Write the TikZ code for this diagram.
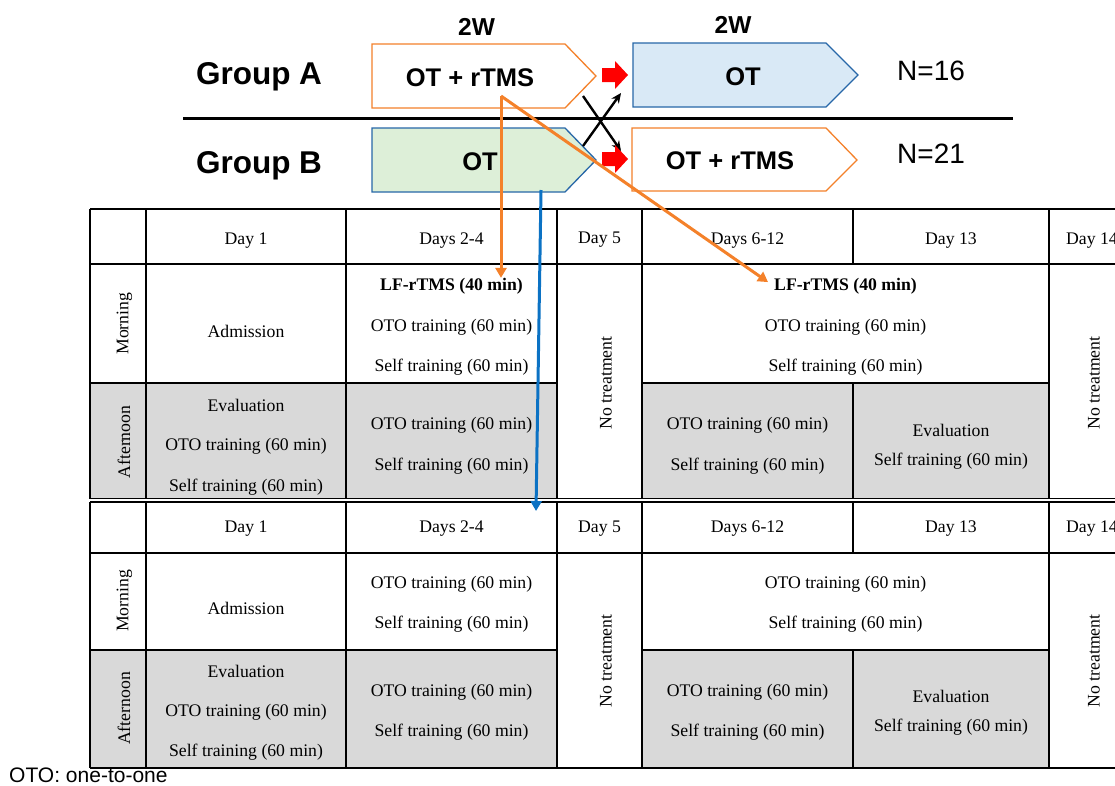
\documentclass[tikz,border=0pt]{standalone}
\usepackage{fontspec}
\setmainfont{Liberation Serif}
\setsansfont{Liberation Sans}
\usetikzlibrary{arrows.meta}
\definecolor{orangeA}{HTML}{F4812A}
\definecolor{boxblue}{HTML}{2767A8}
\definecolor{arrblue}{HTML}{0B72C4}
\definecolor{greenF}{HTML}{DDEFD8}
\definecolor{blueF}{HTML}{D9E9F6}
\definecolor{grayF}{HTML}{D9D9D9}
\tikzset{
  tt/.style={font=\fontsize{17.7}{20}\selectfont, inner sep=0pt, yshift=-1.8pt},
  ttb/.style={font=\fontsize{17.7}{20}\selectfont\bfseries, inner sep=0pt, yshift=-1.8pt},
  rot/.style={font=\fontsize{17.7}{20}\selectfont, inner sep=0pt, rotate=90},
  gridline/.style={line width=1.4pt, black},
  grp/.style={font=\sffamily\bfseries\fontsize{31.5}{35}\selectfont, inner sep=0pt, anchor=base},
  boxtxt/.style={font=\sffamily\bfseries\fontsize{25.5}{29}\selectfont, inner sep=0pt, anchor=base},
  wk/.style={font=\sffamily\bfseries\fontsize{24.5}{28}\selectfont, inner sep=0pt, anchor=base},
  ntxt/.style={font=\sffamily\fontsize{28}{32}\selectfont, inner sep=0pt, anchor=base west},
  orbox/.style={draw=orangeA, line width=1.3pt, fill=white},
  blbox/.style={draw=boxblue, line width=1.3pt},
  orarrow/.style={draw=orangeA, line width=3pt, -{Triangle[length=10pt,width=11pt]}},
  blarrow/.style={draw=arrblue, line width=3pt, -{Triangle[length=10pt,width=11pt]}},
  crossarrow/.style={draw=black, line width=2.4pt, -{Stealth[length=10pt,width=9pt]}},
  redarrow/.style={fill=red, draw=none}
}
\newcommand\schedgrid[4]{%
  \fill[grayF] (90,#3) rectangle (557,#4);
  \fill[grayF] (642,#3) rectangle (1049,#4);
  \draw[gridline] (90,#1) -- (1140,#1) (90,#2) -- (1140,#2) (90,#4) -- (1140,#4)
    (90,#3) -- (557,#3) (642,#3) -- (1049,#3)
    (90,#1) -- (90,#4) (146,#1) -- (146,#4) (346,#1) -- (346,#4)
    (557,#1) -- (557,#4) (642,#1) -- (642,#4) (1049,#1) -- (1049,#4)
    (853,#1) -- (853,#2) (853,#3) -- (853,#4);
}
\newcommand\redblock[1]{%
  \fill[redarrow] (602,#1-7) -- (615,#1-7) -- (615,#1-14) -- (628,#1) -- (615,#1+14) -- (615,#1+7) -- (602,#1+7) -- cycle;
}
\begin{document}
\begin{tikzpicture}[x=1pt,y=-1pt]
\clip (0,0) rectangle (1115,785);
\fill[white] (0,0) rectangle (1115,785);

% ---------- tables ----------
\schedgrid{209}{264}{383}{498.5}
\schedgrid{502}{553}{650}{768}

% table 1 texts
\node[tt] (ah1) at (246,238.3) {Day 1};
\node[tt] (ah2) at (451.5,238.3) {Days 2-4};
\node[tt] (ah3) at (599.5,238.3) {Day 5};
\node[tt] (ah4) at (747.5,238.3) {Days 6-12};
\node[tt] (ah5) at (951,238.3) {Day 13};
\node[tt] (ah6) at (1092,238.3) {Day 14};
\node[rot] (amor) at (124.5,323.7) {Morning};
\node[rot] (aaft) at (124,442) {Afternoon};
\node[tt] (aadm) at (246,330) {Admission};
\node[ttb] (alf1) at (451.5,284.3) {LF-rTMS (40 min)};
\node[tt] (aoto1) at (451.5,325.7) {OTO training (60 min)};
\node[tt] (aself1) at (451.5,365.7) {Self training (60 min)};
\node[ttb] (alf2) at (845.5,284.3) {LF-rTMS (40 min)};
\node[tt] (aoto2) at (845.5,325.7) {OTO training (60 min)};
\node[tt] (aself2) at (845.5,365.7) {Self training (60 min)};
\node[rot] (ano1) at (606,383) {No treatment};
\node[rot] (ano2) at (1094,383) {No treatment};
\node[tt] (aev1) at (246,403.3) {Evaluation};
\node[tt] (aoto3) at (246,444.3) {OTO training (60 min)};
\node[tt] (aself3) at (246,485) {Self training (60 min)};
\node[tt] (aoto4) at (451.5,423.3) {OTO training (60 min)};
\node[tt] (aself4) at (451.5,464.3) {Self training (60 min)};
\node[tt] (aoto5) at (747.5,423.3) {OTO training (60 min)};
\node[tt] (aself5) at (747.5,464.3) {Self training (60 min)};
\node[tt] (aev2) at (951,428.3) {Evaluation};
\node[tt] (aself6) at (951,459.3) {Self training (60 min)};

% table 2 texts
\node[tt] (bh1) at (246,527) {Day 1};
\node[tt] (bh2) at (451.5,527) {Days 2-4};
\node[tt] (bh3) at (599.5,527) {Day 5};
\node[tt] (bh4) at (747.5,527) {Days 6-12};
\node[tt] (bh5) at (951,527) {Day 13};
\node[tt] (bh6) at (1092,527) {Day 14};
\node[rot] (bmor) at (124.5,601) {Morning};
\node[rot] (baft) at (124,708.5) {Afternoon};
\node[tt] (badm) at (246,607) {Admission};
\node[tt] (boto1) at (451.5,582.3) {OTO training (60 min)};
\node[tt] (bself1) at (451.5,622.7) {Self training (60 min)};
\node[tt] (boto2) at (845.5,582.3) {OTO training (60 min)};
\node[tt] (bself2) at (845.5,622.7) {Self training (60 min)};
\node[rot] (bno1) at (606,661) {No treatment};
\node[rot] (bno2) at (1094,661) {No treatment};
\node[tt] (bev1) at (246,669.7) {Evaluation};
\node[tt] (boto3) at (246,710) {OTO training (60 min)};
\node[tt] (bself3) at (246,750.7) {Self training (60 min)};
\node[tt] (boto4) at (451.5,690) {OTO training (60 min)};
\node[tt] (bself4) at (451.5,730.7) {Self training (60 min)};
\node[tt] (boto5) at (747.5,690) {OTO training (60 min)};
\node[tt] (bself5) at (747.5,730.7) {Self training (60 min)};
\node[tt] (bev2) at (951,694.7) {Evaluation};
\node[tt] (bself6) at (951,725.3) {Self training (60 min)};

\node[font=\sffamily\fontsize{21}{24}\selectfont, inner sep=0pt, anchor=base west] (legend) at (9,782) {OTO: one-to-one};

% ---------- design ----------
\draw[orbox] (372,44) -- (565,44) -- (596,76) -- (565,108) -- (372,108) -- cycle;
\draw[blbox, fill=greenF] (372,128) -- (565,128) -- (596,160) -- (565,192) -- (372,192) -- cycle;
\draw[blbox, fill=blueF] (633,43) -- (826,43) -- (858,75) -- (826,107) -- (633,107) -- cycle;
\draw[orbox] (632,128) -- (826,128) -- (857,160) -- (826,191) -- (632,191) -- cycle;

\node[grp] (ga) at (259,84) {Group A};
\node[grp] (gb) at (259,173) {Group B};
\node[wk] (w1) at (476.5,35.5) {2W};
\node[wk] (w2) at (733,33) {2W};
\node[boxtxt] (a1t) at (470,86) {OT + rTMS};
\node[boxtxt] (b1t) at (480,170.5) {OT};
\node[boxtxt] (a2t) at (743,85) {OT};
\node[boxtxt] (b2t) at (730,169.5) {OT + rTMS};
\node[ntxt] (n16) at (897,80) {N=16};
\node[ntxt] (n21) at (897,163) {N=21};

\draw[line width=3pt] (183,118) -- (1013,118);

\coordinate (x1s) at (583,146);
\coordinate (x1e) at (621,93);
\coordinate (x2s) at (583,96);
\coordinate (x2e) at (621,151);
\draw[crossarrow] (x1s) -- (x1e);
\draw[crossarrow] (x2s) -- (x2e);

\redblock{75}
\redblock{159}

\coordinate (os) at (501,96);
\draw[orarrow] (os) -- (os |- alf1.north);
\draw[orarrow] (os) -- ([shift={(-6,-4)}]alf2.west);

\coordinate (bs) at (541,190);
\coordinate (be) at (536,511);
\draw[blarrow] (bs) -- (be);
\end{tikzpicture}
\end{document}
